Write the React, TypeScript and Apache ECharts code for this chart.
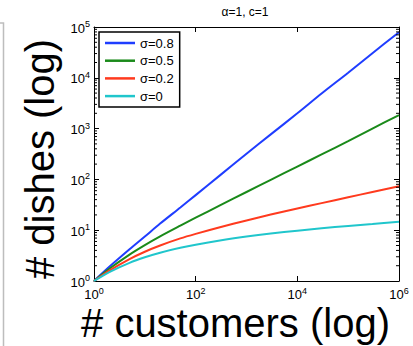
import React, { useEffect, useRef } from "react";
import * as echarts from "echarts";

const FONT = "'Liberation Sans', Arial, Helvetica, sans-serif";

// number of customers (x)
const customers = [1, 2, 5, 10, 20, 50, 100, 300, 1000, 3000, 1e4, 3e4, 1e5, 3e5, 1e6];
// expected number of dishes (y)
const dishesSigma08 = [1, 1.9, 4.2, 7.5, 13.5, 28, 49, 120, 320, 770, 2000, 4900, 12600, 30500, 79000];
const dishesSigma05 = [1, 1.74, 3.31, 5.09, 7.57, 12.3, 17.6, 30.8, 56.5, 98, 179, 310, 566, 1000, 1850];
const dishesSigma02 = [1, 1.6, 2.7, 3.77, 5.0, 6.89, 8.47, 11.46, 15.56, 20.3, 26.7, 34.1, 44.5, 56.5, 73];
const dishesSigma0 = [1, 1.5, 2.28, 2.93, 3.6, 4.5, 5.19, 6.28, 7.49, 8.6, 9.79, 10.9, 12.1, 13.2, 14.6];

const seriesNames = ["σ=0.8", "σ=0.5", "σ=0.2", "σ=0"];
const seriesValues = [dishesSigma08, dishesSigma05, dishesSigma02, dishesSigma0];
const seriesColors = ["#1f3dff", "#1a8a1a", "#ff3a1e", "#20c6cc"];

const titleText = "α=1, c=1";
const xTitle = "# customers (log)";
const yTitle = "# dishes (log)";

// minor tick positions on the log y axis
const minorMultipliers = [2, 3, 4, 5, 6, 7, 8, 9];
const yDecades = [1, 10, 100, 1000, 10000];
const yMinorTicks = yDecades.flatMap((d) => minorMultipliers.map((m) => m * d));

const X_MIN = 1;
const X_MAX = 1e6;
const Y_MIN = 1;
const Y_MAX = 1e5;

const rich = {
  b: { fontSize: 13, fontFamily: FONT, color: "#000", lineHeight: 15, verticalAlign: "bottom" },
  s: { fontSize: 9, fontFamily: FONT, color: "#000", lineHeight: 10, verticalAlign: "top" },
};
const powFormatter = (v: number) => `{b|10}{s|${Math.round(Math.log10(v))}}`;

const axisLine = { show: true, onZero: false, lineStyle: { color: "#000", width: 1 } };

export default function App() {
  const ref = useRef<HTMLDivElement>(null);
  useEffect(() => {
    if (!ref.current) return;
    const chart = echarts.init(ref.current, null, { renderer: "svg" });
    const lineSeries = seriesNames.map((name, i) => ({
      name,
      type: "line",
      xAxisIndex: 0,
      yAxisIndex: 0,
      data: customers.map((c, j) => [c, seriesValues[i][j]]),
      showSymbol: false,
      symbol: "none",
      smooth: 0.3,
      lineStyle: { color: seriesColors[i], width: 2 },
      itemStyle: { color: seriesColors[i] },
      z: 3,
    }));
    const minorSeries = {
      type: "custom",
      xAxisIndex: 0,
      yAxisIndex: 0,
      silent: true,
      clip: false,
      z: 5,
      data: yMinorTicks.map((v) => [X_MIN, v]),
      encode: { x: 0, y: 1 },
      renderItem: (params: any, api: any) => {
        const v = api.value(1);
        const l = api.coord([X_MIN, v]);
        const r = api.coord([X_MAX, v]);
        return {
          type: "group",
          children: [
            { type: "line", shape: { x1: l[0], y1: l[1], x2: l[0] + 3, y2: l[1] }, style: { stroke: "#000", lineWidth: 1 } },
            { type: "line", shape: { x1: r[0] - 3, y1: r[1], x2: r[0], y2: r[1] }, style: { stroke: "#000", lineWidth: 1 } },
          ],
        };
      },
    };
    chart.setOption({
      animation: false,
      backgroundColor: "#fff",
      grid: { left: 94, right: 14, top: 27, bottom: 65, containLabel: false, outerBoundsMode: "none" },
      legend: {
        data: seriesNames,
        orient: "vertical",
        left: 99,
        top: 32,
        padding: [4, 6, 4, 6],
        icon: "rect",
        itemWidth: 30,
        itemHeight: 2.5,
        itemGap: 3.7,
        backgroundColor: "#fff",
        borderColor: "#000",
        borderWidth: 1.5,
        borderRadius: 0,
        textStyle: { fontSize: 13, fontFamily: FONT, color: "#000", lineHeight: 14 },
      },
      xAxis: [
        {
          type: "log",
          logBase: 10,
          min: X_MIN,
          max: X_MAX,
          interval: 2,
          position: "bottom",
          axisLine,
          axisTick: { show: true, inside: true, length: 5, lineStyle: { color: "#000" } },
          axisLabel: { margin: 5, formatter: powFormatter, rich },
          splitLine: { show: false },
        },
        {
          type: "log",
          logBase: 10,
          min: X_MIN,
          max: X_MAX,
          interval: 2,
          position: "top",
          axisLine,
          axisTick: { show: true, inside: true, length: 5, lineStyle: { color: "#000" } },
          axisLabel: { show: false },
          splitLine: { show: false },
        },
      ],
      yAxis: [
        {
          type: "log",
          logBase: 10,
          min: Y_MIN,
          max: Y_MAX,
          interval: 1,
          position: "left",
          axisLine,
          axisTick: { show: true, inside: true, length: 5, lineStyle: { color: "#000" } },
          axisLabel: { margin: 4, formatter: powFormatter, rich },
          splitLine: { show: false },
        },
        {
          type: "log",
          logBase: 10,
          min: Y_MIN,
          max: Y_MAX,
          interval: 1,
          position: "right",
          axisLine,
          axisTick: { show: true, inside: true, length: 5, lineStyle: { color: "#000" } },
          axisLabel: { show: false },
          splitLine: { show: false },
        },
      ],
      series: [...lineSeries, minorSeries],
      graphic: [
        {
          type: "polyline",
          shape: { points: [[0, 23], [3.5, 23], [3.5, 346]] },
          style: { stroke: "#bdbdbd", lineWidth: 1.5, fill: "none" },
          silent: true,
        },
        {
          type: "text",
          x: 245,
          y: 12,
          style: { text: titleText, fontSize: 12, fontFamily: FONT, fill: "#000", align: "center", verticalAlign: "middle", textAlign: "center", textVerticalAlign: "middle" },
        },
        {
          type: "text",
          x: 40,
          y: 159,
          rotation: Math.PI / 2,
          style: { text: yTitle, fontSize: 40, fontFamily: FONT, fill: "#000", align: "center", verticalAlign: "middle", textAlign: "center", textVerticalAlign: "middle" },
        },
        {
          type: "text",
          x: 235.5,
          y: 323,
          style: { text: xTitle, fontSize: 40, fontFamily: FONT, fill: "#000", align: "center", verticalAlign: "middle", textAlign: "center", textVerticalAlign: "middle" },
        },
      ],
    });
    return () => chart.dispose();
  }, []);
  return <div ref={ref} style={{ position: "fixed", left: 0, top: 0, width: 413, height: 346 }} />;
}
